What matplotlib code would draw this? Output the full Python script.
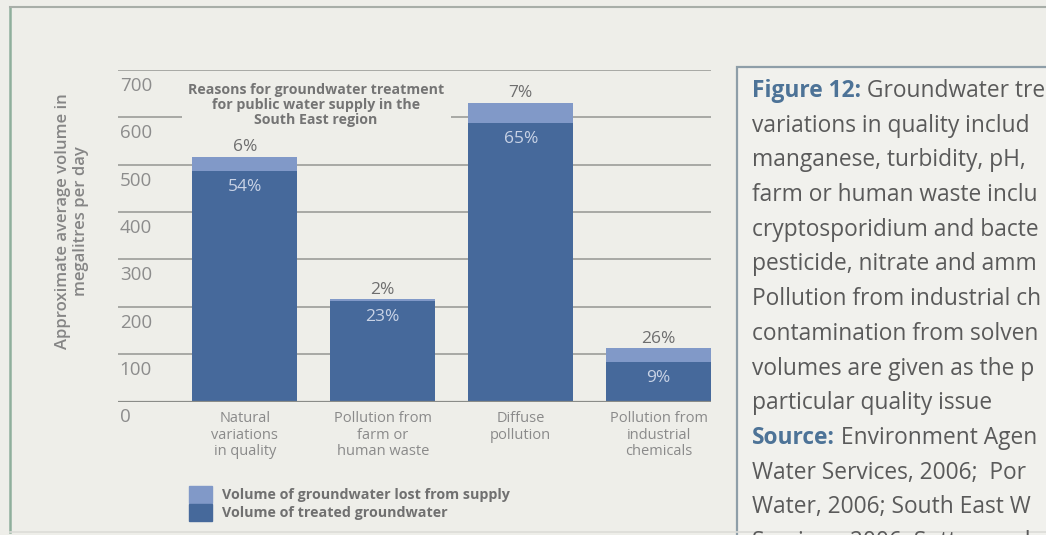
import matplotlib
matplotlib.use("Agg")
import matplotlib.pyplot as plt
from matplotlib.patches import Patch, Rectangle
from matplotlib.lines import Line2D
import matplotlib.transforms as mtransforms

plt.rcParams['font.family'] = ['Open Sans', 'DejaVu Sans']

# data (megalitres per day)
categories = ['Natural\nvariations\nin quality', 'Pollution from\nfarm or\nhuman waste',
              'Diffuse\npollution', 'Pollution from\nindustrial\nchemicals']
treated = [487, 212, 588, 84]
lost = [30, 4, 43, 29]
lost_pct = ['6%', '2%', '7%', '26%']
treated_pct = ['54%', '23%', '65%', '9%']
yticks = [0, 100, 200, 300, 400, 500, 600, 700]

caption = [
    ('Figure 12:', ' Groundwater tre'),
    ('', 'variations in quality includ'),
    ('', 'manganese, turbidity, pH, '),
    ('', 'farm or human waste inclu'),
    ('', 'cryptosporidium and bacte'),
    ('', 'pesticide, nitrate and amm'),
    ('', 'Pollution from industrial ch'),
    ('', 'contamination from solven'),
    ('', 'volumes are given as the p'),
    ('', 'particular quality issue'),
    ('Source:', ' Environment Agen'),
    ('', 'Water Services, 2006;  Por'),
    ('', 'Water, 2006; South East W'),
    ('', 'Services, 2006; Sutton and'),
]

bg = '#eeeee9'
dark = '#46699b'
light = '#8199c8'

W, H = 1046, 535
fig = plt.figure(figsize=(W / 100, H / 100), dpi=100, facecolor=bg)
ax = fig.add_axes([118 / W, 1 - 401.5 / H, 593 / W, 331.5 / H], facecolor=bg)

x = list(range(len(categories)))
ax.bar(x, treated, width=0.76, color=dark, zorder=3)
ax.bar(x, lost, width=0.76, bottom=treated, color=light, zorder=3)

ax.set_xlim(-0.92, 3.38)
ax.set_ylim(0, 700)
for s in ax.spines.values():
    s.set_visible(False)

ax.set_yticks(yticks)
ax.set_yticklabels([])
ax.tick_params(axis='y', length=0)
ax.grid(axis='y', color='#a2a39f', lw=1.3, zorder=1)
ax.axhline(0, color='#8a8c88', lw=1.6, zorder=4)

# tick numbers sit inside the plot, just under each gridline
trans = mtransforms.blended_transform_factory(ax.transAxes, ax.transData)
for v in yticks:
    ax.annotate(str(v), (0.003, v), xycoords=trans, xytext=(0, -5), textcoords='offset points',
                ha='left', va='top', fontsize=13.5, color='#8c8c8c')

ax.set_xticks(x)
ax.set_xticklabels(categories, fontsize=10.5, color='#8a8a8a', linespacing=1.12)
ax.tick_params(axis='x', length=0, pad=7)

for i in x:
    top = treated[i] + lost[i]
    ax.annotate(lost_pct[i], (i, top), xytext=(0, 1), textcoords='offset points',
                ha='center', va='bottom', fontsize=12.5, color='#6e6e6e')
    ax.annotate(treated_pct[i], (i, treated[i]), xytext=(0, -6), textcoords='offset points',
                ha='center', va='top', fontsize=12.5, color='#c9d3e6')

ax.text((316 - 118) / 593, 1 - 13 / 331.5,
        'Reasons for groundwater treatment\nfor public water supply in the\nSouth East region',
        transform=ax.transAxes, ha='center', va='top', fontsize=10.2, fontweight='bold',
        color='#747474', linespacing=1.07, zorder=5,
        bbox=dict(boxstyle='square,pad=0.45', fc=bg, ec='none'))

fig.text(72 / W, 1 - 221 / H, 'Approximate average volume in\nmegalitres per day',
         rotation=90, ha='center', va='center', fontsize=12, fontweight='semibold',
         color='#858585', linespacing=1.1)

handles = [Patch(color=light), Patch(color=dark)]
fig.legend(handles, ['Volume of groundwater lost from supply', 'Volume of treated groundwater'],
           loc='upper left', bbox_to_anchor=(189 / W, 1 - 486 / H), frameon=False,
           borderpad=0, borderaxespad=0, labelspacing=0.05, handlelength=1.6,
           handleheight=1.45, handletextpad=0.7,
           prop={'size': 10.3, 'weight': 'bold'}, labelcolor='#707070')

# page frame and caption box
fig.add_artist(Line2D([10 / W, 10 / W], [1 - 7 / H, 1 - 532 / H], color='#8faf9c', lw=1.8))
fig.add_artist(Line2D([10 / W, 1], [1 - 7 / H, 1 - 7 / H], color='#a8aea8', lw=1.5))
fig.add_artist(Line2D([10 / W, 1], [1 - 532 / H, 1 - 532 / H], color='#dcdcd8', lw=1.2))
fig.add_artist(Rectangle((737 / W, -0.1), 0.5, 1.1 - 67 / H, transform=fig.transFigure,
                         fc='#f1f1ed', ec='#8e9ea8', lw=1.6))

cap_size = 16.4
y0 = 97
fig.canvas.draw()
for k, (head, rest) in enumerate(caption):
    yy = 1 - (y0 + 34.7 * k) / H
    xx = 752 / W
    if head:
        t = fig.text(xx, yy, head, fontsize=cap_size, fontweight='bold', color='#4d7397',
                     va='baseline')
        bb = t.get_window_extent(renderer=fig.canvas.get_renderer())
        xx = bb.x1 / W
    fig.text(xx, yy, rest, fontsize=cap_size, color='#5a5a5a', va='baseline')

fig.savefig('out.png', dpi=100, facecolor=bg)
